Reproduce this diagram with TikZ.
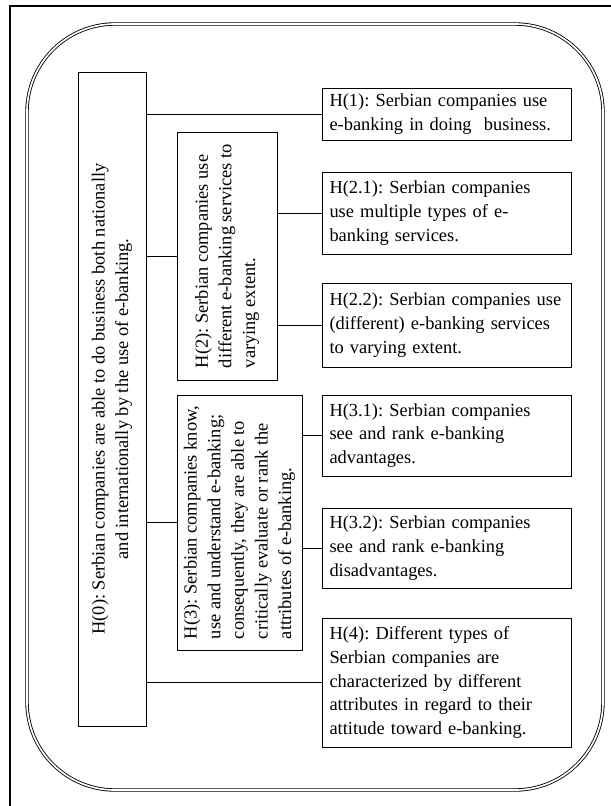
\documentclass[tikz,border=0pt]{standalone}
\usepackage{fontspec}
\setmainfont{Liberation Serif}
\usepackage{tikz}
\usetikzlibrary{positioning}
\frenchspacing

\begin{document}
\begin{tikzpicture}[
        hyp/.style={draw, line width=0.6pt, font=\fontsize{13.1}{16.8}\selectfont},
        hright/.style={hyp, align=left, text width=5.85cm, inner xsep=0.1875cm, inner ysep=0pt, minimum width=6.225cm},
        hrot/.style={hyp, rotate=90, inner sep=2pt}
    ]
    \useasboundingbox (0, 0) rectangle (15.275, -20.15);

    % page frame and double rounded border
    \draw[line width=2.1pt] (15.275, -0.15) -- (0.25, -0.15) -- (0.25, -20.15);
    \draw[double, double distance=1.2pt, line width=0.6pt, rounded corners=2.2cm]
        (0.675, -0.6) rectangle (15.075, -19.75);

    % rotated boxes (their south side faces right)
    \node[hrot, align=center, minimum width=16.35cm, minimum height=1.7cm] (h0) at (2.8, -9.975)
        {H(0): Serbian companies are able to do business both nationally\\and internationally by the use of e-banking.};
    \node[hrot, align=left, minimum width=6.2cm, minimum height=2.5cm] (h2) at (5.675, -6.4)
        {H(2): Serbian companies use\\different e-banking services to\\varying extent.};
    \node[hrot, align=left, minimum width=6.375cm, minimum height=3.125cm] (h3) at (5.9875, -13.0625)
        {H(3): Serbian companies know,\\use and understand e-banking;\\consequently, they are able to\\critically evaluate or rank the\\attributes of e-banking.};

    \node[hright, minimum height=1.3cm] (h1) at (11.1625, -2.85)
        {H(1): Serbian companies use\\e-banking in doing~ business.};
    \node[hright, minimum height=2.05cm] (h21) at (11.1625, -5.325)
        {H(2.1): Serbian companies\\use multiple types of e-\\banking services.};
    \node[hright, minimum height=2.1cm] (h22) at (11.1625, -8.125)
        {H(2.2): Serbian companies use\\(different) e-banking services\\to varying extent.};
    \node[hright, minimum height=2.025cm] (h31) at (11.1625, -10.8875)
        {H(3.1): Serbian companies\\see and rank e-banking\\advantages.};
    \node[hright, minimum height=2.0cm] (h32) at (11.1625, -13.7)
        {H(3.2): Serbian companies\\see and rank e-banking\\disadvantages.};
    \node[hright, minimum height=3.225cm] (h4) at (11.1625, -17.0625)
        {H(4): Different types of\\Serbian companies are\\characterized by different\\attributes in regard to their\\attitude toward e-banking.};

    \draw[line width=0.6pt]
    (h0.south |- h1.west) edge (h1.west)
    (h0.south |- h2.north) edge (h2.north)
    (h2.south |- h21.west) edge (h21.west)
    (h2.south |- h22.west) edge (h22.west)
    (h0.south |- h3.north) edge (h3.north)
    (h3.south |- h31.west) edge (h31.west)
    (h3.south |- h32.west) edge (h32.west)
    (h0.south |- h4.west) edge (h4.west);
\end{tikzpicture}
\end{document}
